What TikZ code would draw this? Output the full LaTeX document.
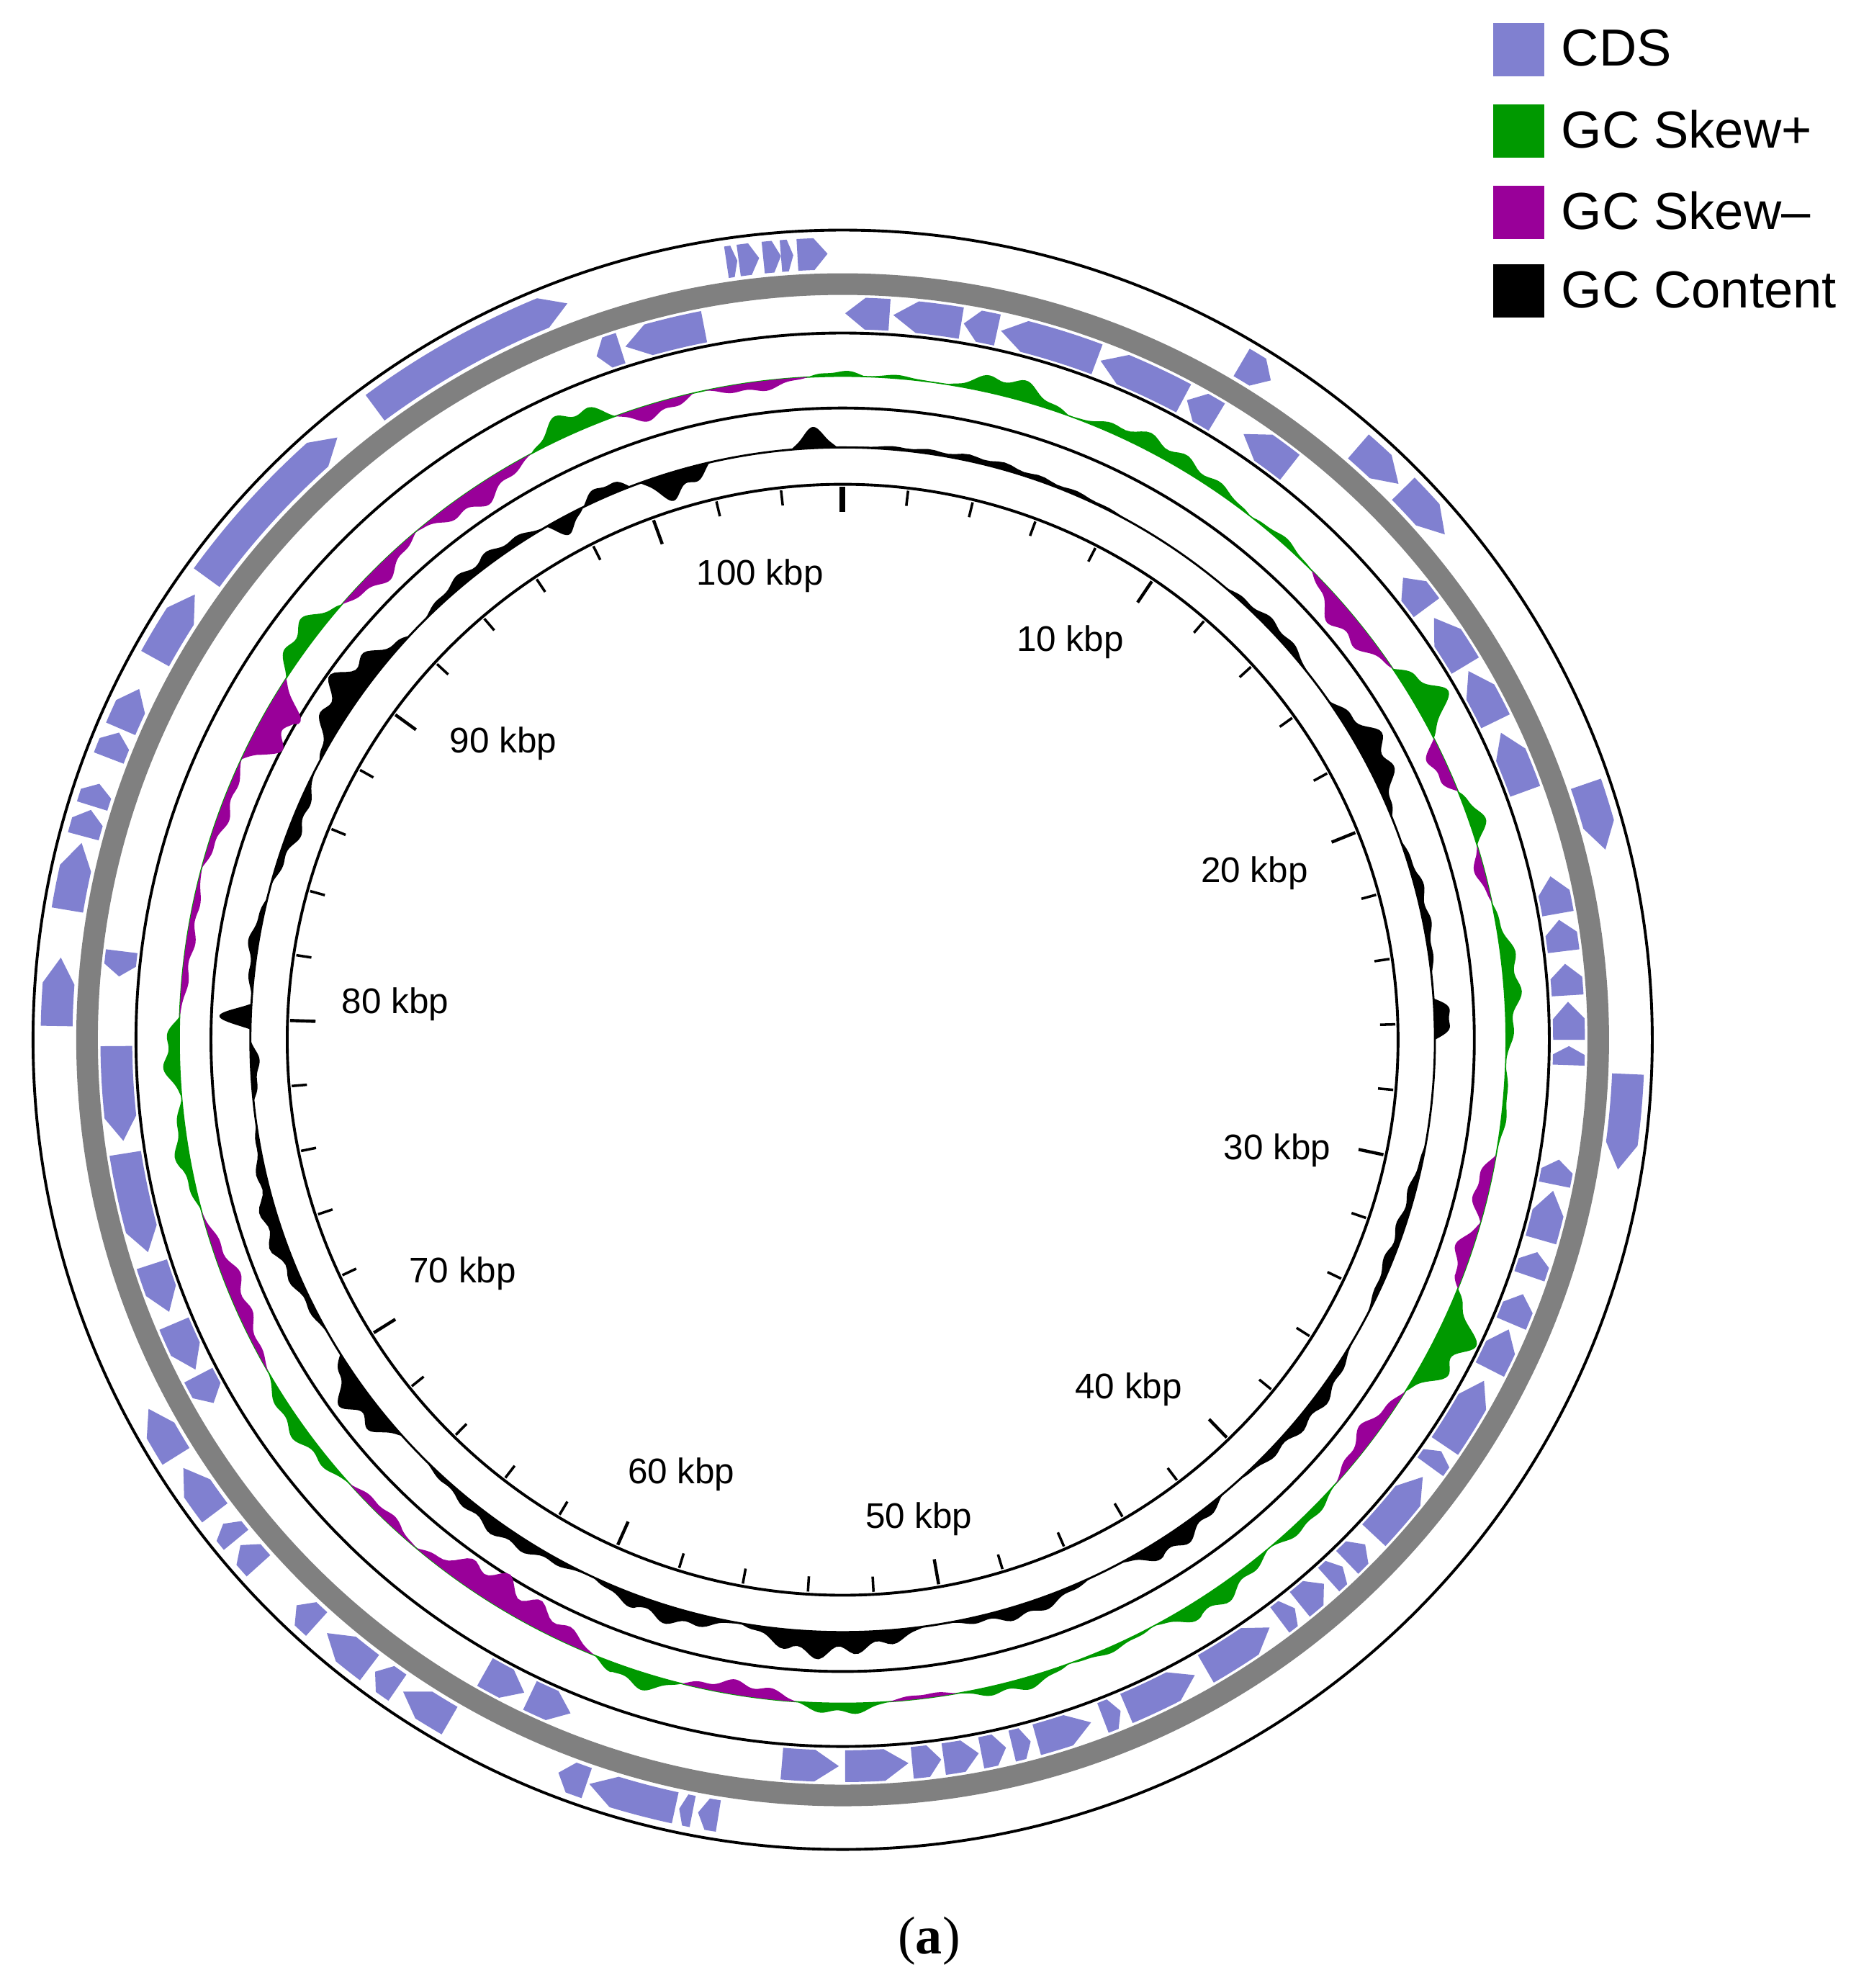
\documentclass[tikz,border=0pt]{standalone}
\usepackage{fontspec}
\setmainfont{Liberation Sans}
\newfontfamily\seriff{Liberation Serif}
\definecolor{cdsc}{RGB}{128,128,208}
\definecolor{skp}{RGB}{0,153,0}
\definecolor{skm}{RGB}{153,0,153}
\definecolor{ringg}{RGB}{128,128,128}
\newcommand\cwa[4]{\pgfmathsetmacro\hh{min(0.45*((#2)-(#1)),1.9)}\pgfmathsetmacro\bb{(#2)-\hh}\pgfmathsetmacro\rmid{((#3)+(#4))/2}%
\fill[cdsc] ({90-(#1)}:#4) arc[start angle={90-(#1)},end angle={90-\bb},radius=#4] -- ({90-(#2)}:\rmid) -- ({90-\bb}:#3) arc[start angle={90-\bb},end angle={90-(#1)},radius=#3] -- cycle;}
\newcommand\ccwa[4]{\pgfmathsetmacro\hh{min(0.45*((#2)-(#1)),1.9)}\pgfmathsetmacro\bb{(#1)+\hh}\pgfmathsetmacro\rmid{((#3)+(#4))/2}%
\fill[cdsc] ({90-\bb}:#4) arc[start angle={90-\bb},end angle={90-(#2)},radius=#4] -- ({90-(#2)}:#3) arc[start angle={90-(#2)},end angle={90-\bb},radius=#3] -- ({90-(#1)}:\rmid) -- cycle;}
\newcommand\bump[6]{\fill[#6] plot[domain=#1:#2,samples=45,variable=\t] ({90-\t}:{#4+(#3)*#5*sin(180*(\t-(#1))/((#2)-(#1)))*(0.75+0.2*sin(mod(\t,37)*97)+0.1*sin(mod(\t,100)*31))}) -- ({90-(#2)}:#4) arc[start angle={90-(#2)},end angle={90-(#1)},radius=#4] -- cycle;}
\begin{document}
\begin{tikzpicture}[x=1pt,y=1pt,
  ring/.style={draw=black,line width=2.2pt},
  klabel/.style={font=\fontsize{28}{30}\selectfont},
  legtext/.style={font=\fontsize{41}{44}\selectfont,anchor=west}]
\useasboundingbox (-663,818) rectangle (807,-746);
% circles
\draw[ringg,line width=17pt] (0,0) circle[radius=594.5];
\foreach \r in {637,556,497,437} \draw[ring] (0,0) circle[radius=\r];
\draw[black,line width=1.6pt] (0,0) circle[radius=466];
\draw[skp,line width=1pt] (0,0) circle[radius=522];
% outer CDS (clockwise)
\foreach \a/\b in {-8.5/-7.7,-7.6/-6.1,-5.8/-4.5,-4.5/-3.6,-3.3/-1.1,-36.5/-20.5,30.5/33,41/45,45.5/50,71/76,92.5/99.5,189.1/190.6,191/192,192.3/198.8,199/201.2,210/214,214.5/216.5,217/221,222/224,228/230,230.5/232,233/237,238/242,271/276,279.5/284.5,285/287,287.3/289,291/293,293.3/296.5,299/304.5,306/320}
  {\cwa{\a}{\b}{606}{631}}
% inner CDS (counter-clockwise)
\foreach \a/\b in {0.2/3.7,4/9.4,9.6/12.3,12.6/20.5,20.8/28,28.3/31,33.5/38,50.5/53.5,54.5/59,59.5/64,65/70,77/80,80.5/83,84/86.5,87/90,90.5/92,99.5/101.5,102/106,107/109,110.5/113,113.5/117,118/124,124.5/126,127/133,134/136,136.5/138,138.5/141,141.5/143,144/150,151/157,157.5/159,160/164.5,165/166.5,167/169,169.2/172,172.2/174.5,174.8/179.8,180.3/184.8,202/205.5,206/209.5,240/242.5,243/247,248/252,253/261,262/269.5,275/277,-19.8/-17.8,-17.4/-11}
  {\ccwa{\a}{\b}{559}{584}}
% GC skew
\foreach \a/\b/\v in {-28/-20/0.8,-3/2/0.2,2/8/0.1,9/20/0.6,20/38/0.5,38/45/0.2,56/63/1,68/73/0.5,78/92/0.5,92/100/0.15,112/122/1.2,132/140/0.3,140/152/0.6,152/160/0.2,160/170/0.4,176/184/0.4,194/202/0.5,228/240/0.5,255/265/0.4,265/272/0.6,303/311/0.8}
  {\bump{\a}{\b}{\v}{522}{28}{skp}}
\foreach \a/\b/\v in {-20/-13/-0.5,-12/-3/-0.3,45/56/-0.7,63/68/-0.7,73/78/-0.3,100/106/-0.5,106/112/-0.6,122/132/-0.5,170/176/-0.15,184/194/-0.5,202/220/-1,220/228/-0.3,240/255/-0.5,272/285/-0.3,285/295/-0.4,295/303/-1.2,311/320/-0.5,320/332/-0.6}
  {\bump{\a}{\b}{\v}{522}{28}{skm}}
% GC content
\foreach \a/\b/\v in {-20/-13/-0.9,-26/-21/0.5,-30/-26/-0.6,-45/-30/0.4,-62/-47/1,-75/-63/-0.4,-86/-76/0.3,-89/-86.5/0.9,-96/-90/-0.3,-120/-98/0.5,228/238/1,205/225/0.4,190/205/0.5,172/190/0.8,155/170/0.4,140/152/0.6,120/138/0.4,100/118/-0.3,86/90/0.8,70/84/0.3,55/68/0.8,40/52/0.3,-5/-0.5/0.7,0/30/0.2}
  {\bump{\a}{\b}{\v}{466}{28}{black}}
% ticks
\foreach \k in {1,...,52}{
  \pgfmathtruncatemacro\m{mod(\k,5)}
  \ifnum\m=0 \draw[line width=2.5pt] ({90-6.8*\k}:435) -- ({90-6.8*\k}:415);
  \else \draw[line width=2pt] ({90-6.8*\k}:435) -- ({90-6.8*\k}:423); \fi}
\draw[line width=4.5pt] (90:435) -- (90:415);
% tick labels
\node[klabel] (l100) at (-65,365) {100 kbp};
\node[klabel] (l10) at (179,313) {10 kbp};
\node[klabel] (l20) at (324,131) {20 kbp};
\node[klabel] (l30) at (342,-87) {30 kbp};
\node[klabel] (l40) at (225,-275) {40 kbp};
\node[klabel] (l50) at (60,-377) {50 kbp};
\node[klabel] (l60) at (-127,-342) {60 kbp};
\node[klabel] (l70) at (-299,-184) {70 kbp};
\node[klabel] (l80) at (-352,28) {80 kbp};
\node[klabel] (l90) at (-267,233) {90 kbp};
% legend
\fill[cdsc] (512,800) rectangle (552,758);
\fill[skp] (512,736) rectangle (552,694);
\fill[skm] (512,672) rectangle (552,630);
\fill[black] (512,610) rectangle (552,568);
\node[legtext] (t1) at (562,780) {CDS};
\node[legtext] (t2) at (562,716) {GC Skew+};
\node[legtext] (t3) at (562,652) {GC Skew–};
\node[legtext] (t4) at (562,590) {GC Content};
\node[font=\seriff\fontsize{42}{46}\selectfont] (cap) at (68,-709) {(\textbf{a})};
\end{tikzpicture}
\end{document}
